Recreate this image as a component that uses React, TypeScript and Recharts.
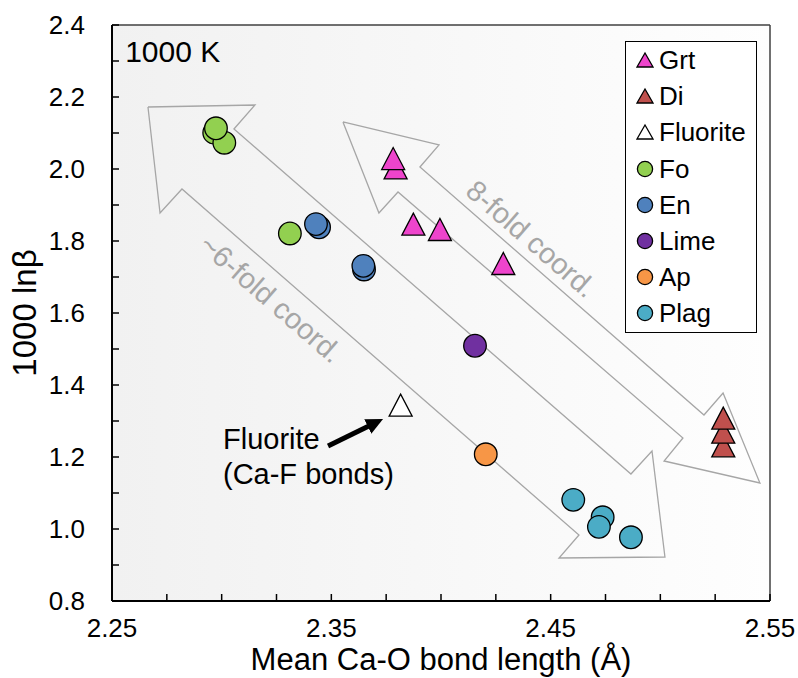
import { ScatterChart, Scatter, XAxis, YAxis, CartesianGrid, ReferenceLine, Legend } from 'recharts';

const FONT = '"Liberation Sans", Arial, sans-serif';

// [mean Ca-O bond length (Å), 1000 lnβ] at 1000 K
const grt = [[2.3793, 2.003], [2.3782, 2.029], [2.3874, 1.847], [2.3995, 1.832], [2.4284, 1.7375]];
const di = [[2.5287, 1.231], [2.5287, 1.269], [2.5287, 1.308]];
const fluorite = [[2.3816, 1.344]];
const fo = [[2.2966, 2.101], [2.3012, 2.073], [2.2974, 2.113], [2.3311, 1.821]];
const en = [[2.3444, 1.838], [2.343, 1.847], [2.3649, 1.721], [2.3646, 1.731]];
const lime = [[2.4155, 1.509]];
const ap = [[2.4204, 1.2075]];
const plag = [[2.4603, 1.081], [2.4737, 1.0325], [2.472, 1.006], [2.4866, 0.977]];

const xTicks = [2.25, 2.275, 2.3, 2.325, 2.35, 2.375, 2.4, 2.425, 2.45, 2.475, 2.5, 2.525, 2.55];
const xLabels = [2.25, 2.35, 2.45, 2.55];
const yTicks = [0.8, 0.9, 1.0, 1.1, 1.2, 1.3, 1.4, 1.5, 1.6, 1.7, 1.8, 1.9, 2.0, 2.1, 2.2, 2.3, 2.4];
const yLabels = [0.8, 1.0, 1.2, 1.4, 1.6, 1.8, 2.0, 2.2, 2.4];

// hollow double arrows, outline in data units
const sixFoldArrow = [
  [2.2664, 2.1722], [2.3152, 2.1778], [2.3056, 2.1111], [2.4866, 1.1528], [2.4962, 1.2167],
  [2.5021, 0.9222], [2.4538, 0.9194], [2.4629, 0.9833], [2.2819, 1.9444], [2.2719, 1.8778],
  [2.2664, 2.1722],
];
const eightFoldArrow = [
  [2.3553, 2.1306], [2.3991, 2.0667], [2.3904, 2.0056], [2.5199, 1.3167], [2.5286, 1.3778],
  [2.5454, 1.1278], [2.5017, 1.1889], [2.5103, 1.2528], [2.3804, 1.9361], [2.3717, 1.8778],
  [2.3553, 2.1306],
];
const fluoritePointer = [[2.3485, 1.2306], [2.3699, 1.2944]];

const notes = [
  { x: 2.256, y: 2.2986, text: '1000 K', size: 30, color: '#000', angle: 0, anchor: 'start', dy: 0 },
  { x: 2.3225, y: 1.64, text: '~6-fold coord.', size: 29, color: '#a6a6a6', angle: 41, anchor: 'middle', dy: 10 },
  { x: 2.4412, y: 1.806, text: '8-fold coord.', size: 29, color: '#a6a6a6', angle: 41, anchor: 'middle', dy: 10 },
  { x: 2.3006, y: 1.222, text: 'Fluorite', size: 29, color: '#000', angle: 0, anchor: 'start', dy: 0 },
  { x: 2.3006, y: 1.125, text: '(Ca-F bonds)', size: 29, color: '#000', angle: 0, anchor: 'start', dy: 0 },
];

const series = [
  { name: 'Grt', data: grt, fill: '#ee44cc', tri: true },
  { name: 'Di', data: di, fill: '#c0504d', tri: true },
  { name: 'Fluorite', data: fluorite, fill: '#ffffff', tri: true },
  { name: 'Fo', data: fo, fill: '#92d050', tri: false },
  { name: 'En', data: en, fill: '#4f81bd', tri: false },
  { name: 'Lime', data: lime, fill: '#7030a0', tri: false },
  { name: 'Ap', data: ap, fill: '#f79646', tri: false },
  { name: 'Plag', data: plag, fill: '#4bacc6', tri: false },
];

const pts = (arr: number[][]) => arr.map(([x, y]) => ({ x, y }));

const Marker = ({ cx, cy, fill, tri, big }: any) => {
  const w = big ? 23 : 16;
  const h = big ? 22 : 14;
  if (tri) {
    const p = `${cx},${cy - h / 2} ${cx - w / 2},${cy + h / 2} ${cx + w / 2},${cy + h / 2}`;
    return <polygon points={p} fill={fill} stroke="#000" strokeWidth={1.3} strokeLinejoin="miter" />;
  }
  return <circle cx={cx} cy={cy} r={big ? 11.3 : 7.6} fill={fill} stroke="#000" strokeWidth={1.3} />;
};

const renderLegend = () => (
  <div
    style={{
      boxSizing: 'border-box',
      width: 132,
      height: 292,
      border: '1.5px solid #000',
      background: '#fff',
      padding: '0 0 0 10px',
      fontFamily: FONT,
      fontSize: 26,
      color: '#000',
    }}
  >
    {series.map((s) => (
      <div key={s.name} style={{ display: 'flex', alignItems: 'center', height: 36.2 }}>
        <svg width={18} height={18}>
          <Marker cx={9} cy={9} fill={s.fill} tri={s.tri} big={false} />
        </svg>
        <span style={{ marginLeft: 5, lineHeight: 1 }}>{s.name}</span>
      </div>
    ))}
  </div>
);

const Nothing = () => <g />;

const NoteText = (p: any) => {
  const n = p.payload;
  return (
    <text
      x={p.cx}
      y={p.cy}
      dy={n.dy}
      fontSize={n.size}
      fill={n.color}
      fontFamily={FONT}
      textAnchor={n.anchor}
      transform={n.angle ? `rotate(${n.angle} ${p.cx} ${p.cy})` : undefined}
    >
      {n.text}
    </text>
  );
};

export default function App() {
  return (
    <div style={{ position: 'absolute', left: 0, top: 0 }}>
      <ScatterChart width={798} height={678} margin={{ top: 25, right: 28, bottom: 0, left: 0 }}>
        <defs>
          <linearGradient id="plotBg" x1="0" y1="0" x2="1" y2="0">
            <stop offset="0%" stopColor="#f1f1f1" />
            <stop offset="100%" stopColor="#fefefe" />
          </linearGradient>
          <marker id="pointerHead" markerUnits="userSpaceOnUse" markerWidth={18} markerHeight={16}
            viewBox="0 0 18 16" refX={8} refY={8} orient="auto">
            <path d="M0,0 L17,8 L0,16 Z" fill="#000" />
          </marker>
        </defs>
        <CartesianGrid fill="url(#plotBg)" stroke="none" horizontal={false} vertical={false} />
        <XAxis
          type="number"
          dataKey="x"
          domain={[2.25, 2.55]}
          allowDataOverflow
          ticks={xTicks}
          interval={0}
          height={77}
          tickSize={-7}
          tickMargin={25}
          axisLine={{ stroke: '#000', strokeWidth: 2 }}
          tickLine={{ stroke: '#000', strokeWidth: 1.5 }}
          tick={{ fill: '#000', fontSize: 26, fontFamily: FONT }}
          tickFormatter={(v: number) => (xLabels.includes(v) ? v.toFixed(2) : '')}
          label={{
            value: 'Mean Ca-O bond length (Å)',
            position: 'insideBottom',
            offset: 8,
            style: { fontSize: 31, fill: '#000', fontFamily: FONT },
          }}
        />
        <YAxis
          type="number"
          dataKey="y"
          domain={[0.8, 2.4]}
          allowDataOverflow
          ticks={yTicks}
          interval={0}
          width={112}
          tickSize={-7}
          tickMargin={34}
          axisLine={{ stroke: '#000', strokeWidth: 2 }}
          tickLine={{ stroke: '#000', strokeWidth: 1.5 }}
          tick={{ fill: '#000', fontSize: 26, fontFamily: FONT }}
          tickFormatter={(v: number) => (yLabels.includes(v) ? v.toFixed(1) : '')}
          label={{
            value: '1000 lnβ',
            angle: -90,
            position: 'insideLeft',
            offset: 24,
            style: { textAnchor: 'middle', fontSize: 33, fill: '#000', fontFamily: FONT },
          }}
        />
        <ReferenceLine y={2.4} stroke="#404040" strokeWidth={1.5} />
        <ReferenceLine x={2.55} stroke="#404040" strokeWidth={1.5} />
        <Scatter data={pts(sixFoldArrow)} shape={Nothing} line={{ stroke: '#a6a6a6', strokeWidth: 1.3 }}
          legendType="none" isAnimationActive={false} />
        <Scatter data={pts(eightFoldArrow)} shape={Nothing} line={{ stroke: '#a6a6a6', strokeWidth: 1.3 }}
          legendType="none" isAnimationActive={false} />
        <Scatter data={pts(fluoritePointer)} shape={Nothing}
          line={{ stroke: '#000', strokeWidth: 5, markerEnd: 'url(#pointerHead)' }}
          legendType="none" isAnimationActive={false} />
        <Scatter data={notes} shape={NoteText} legendType="none" isAnimationActive={false} />
        {series.map((s) => (
          <Scatter
            key={s.name}
            name={s.name}
            data={pts(s.data)}
            fill={s.fill}
            shape={(p: any) => <Marker cx={p.cx} cy={p.cy} fill={s.fill} tri={s.tri} big />}
            isAnimationActive={false}
          />
        ))}
        <Legend
          layout="vertical"
          align="center"
          verticalAlign="middle"
          content={renderLegend}
          wrapperStyle={{ left: 625, top: 41, width: 132, height: 292 }}
        />
      </ScatterChart>
    </div>
  );
}
